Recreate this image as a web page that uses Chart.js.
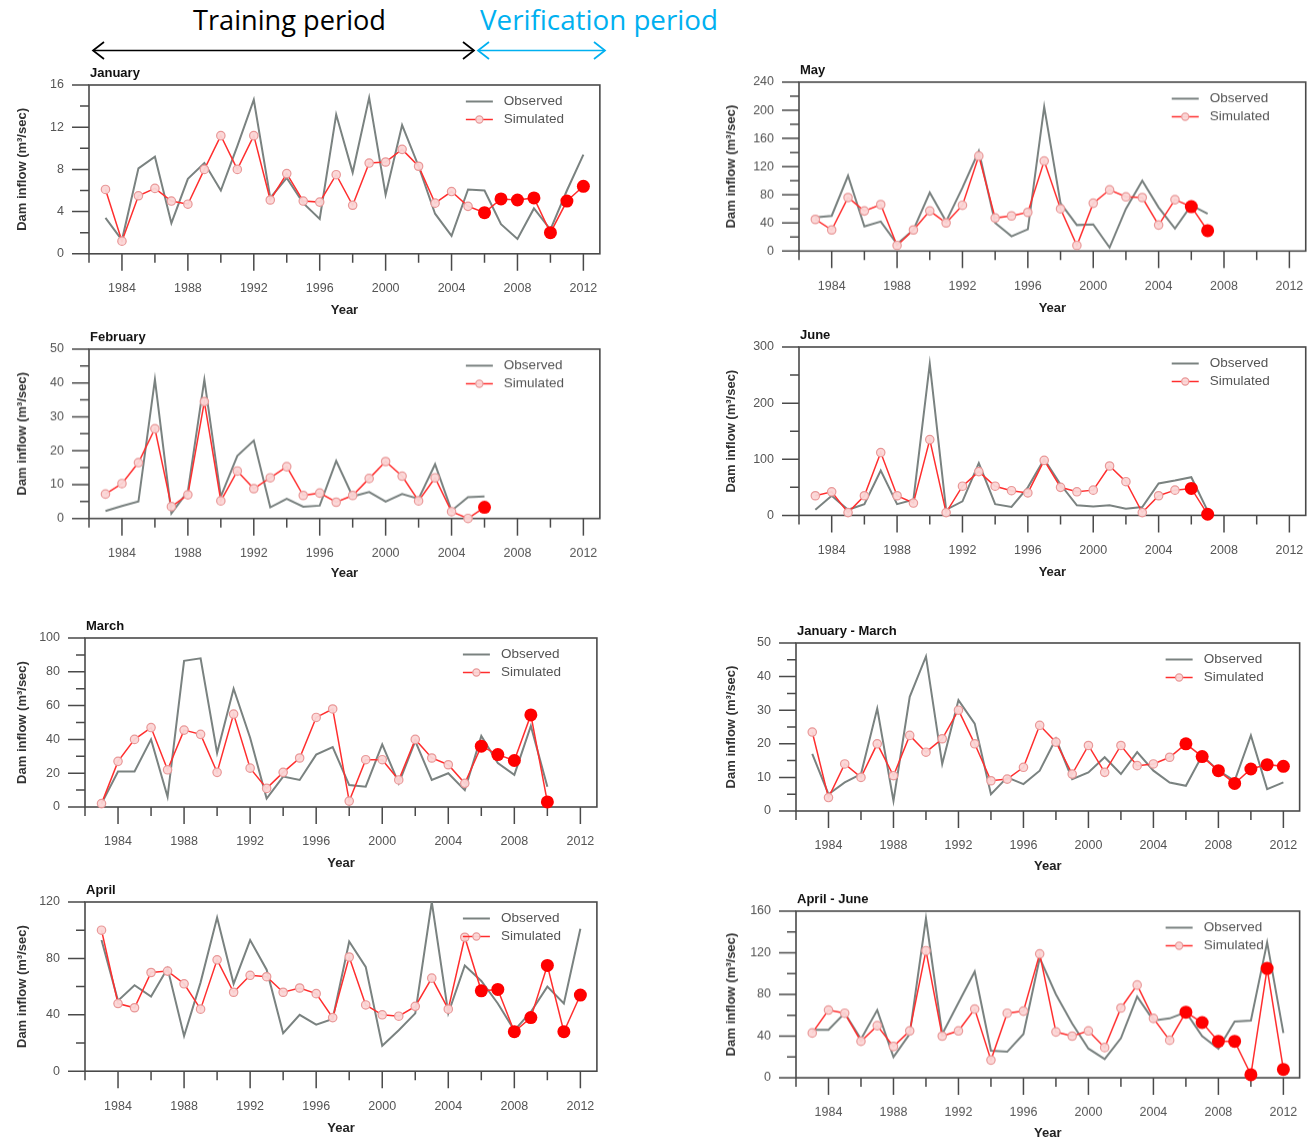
<!DOCTYPE html>
<html>
<head>
<meta charset="utf-8">
<script src="https://cdn.jsdelivr.net/npm/chart.js@4.4.1/dist/chart.umd.min.js"></script>
<style>
  html, body { margin: 0; padding: 0; background: #fff; }
  body { width: 1312px; height: 1141px; position: relative; overflow: hidden; font-family: "Liberation Sans", Arial, sans-serif; }
  .panel { position: absolute; filter: blur(0.45px); }
  #periods { position: absolute; left: 0; top: 0; }
</style>
</head>
<body>
<svg id="periods" width="740" height="66">
  <text x="193" y="29.5" textLength="193" lengthAdjust="spacingAndGlyphs" font-family="Open Sans" font-size="27" fill="#000">Training period</text>
  <text x="480" y="29.5" textLength="238" lengthAdjust="spacingAndGlyphs" font-family="Open Sans" font-size="27" fill="#00b0f0">Verification period</text>
  <g stroke="#000" stroke-width="1.7" fill="none">
    <line x1="93" y1="50.5" x2="474" y2="50.5"/>
    <polyline points="104,42 93,50.5 104,59"/>
    <polyline points="463,42 474,50.5 463,59"/>
  </g>
  <g stroke="#00b0f0" stroke-width="1.7" fill="none">
    <line x1="478" y1="50.5" x2="605" y2="50.5"/>
    <polyline points="489,42 478,50.5 489,59"/>
    <polyline points="594,42 605,50.5 594,59"/>
  </g>
</svg>
<script>
// ---- data ---------------------------------------------------------------
const years = [1983, 1984, 1985, 1986, 1987, 1988, 1989, 1990, 1991, 1992,
               1993, 1994, 1995, 1996, 1997, 1998, 1999, 2000, 2001, 2002,
               2003, 2004, 2005, 2006, 2007, 2008, 2009, 2010, 2011, 2012];
const verificationStart = 2006;
const xTickLabels = [1984, 1988, 1992, 1996, 2000, 2004, 2008, 2012];

const janObserved  = [3.4, 1.3, 8.1, 9.2, 2.9, 7.1, 8.6, 6.0, 10.2, 14.6, 5.3, 7.2, 4.8, 3.3, 13.2, 7.7, 14.8, 5.6, 12.2, 8.3, 3.8, 1.7, 6.1, 6.0, 2.8, 1.4, 4.3, 2.3, 6.0, 9.4];
const janSimulated = [6.1, 1.2, 5.5, 6.2, 5.0, 4.7, 8.0, 11.2, 8.0, 11.2, 5.1, 7.6, 5.0, 4.9, 7.5, 4.6, 8.6, 8.7, 9.9, 8.3, 4.8, 5.9, 4.5, 3.9, 5.2, 5.1, 5.3, 2.0, 5.0, 6.4];

const febObserved  = [2.2, 3.7, 5.0, 41, 1.5, 8, 41, 6.5, 18.5, 23, 3.3, 5.8, 3.5, 3.8, 17, 6.5, 7.8, 5, 7.2, 5.8, 16, 2.3, 6.3, 6.5];
const febSimulated = [7.2, 10.3, 16.5, 26.5, 3.5, 7, 34.5, 5.2, 14, 8.8, 12, 15.3, 6.8, 7.5, 4.8, 6.8, 11.8, 16.8, 12.5, 5.2, 12, 2, 0, 3.3];

const marObserved  = [2, 21, 21, 40, 6, 86.5, 88, 32, 70, 41, 5, 18, 16, 31, 35.5, 13, 12, 37, 14, 39, 16, 20, 10, 42, 26, 19, 48, 12];
const marSimulated = [2, 27, 40, 47, 22, 45.5, 43, 20.5, 55, 23, 11, 20.5, 29, 53, 58, 3.5, 28, 28, 16, 40, 29, 25, 14, 36, 31, 27.5, 54.5, 3];

const aprObserved  = [93, 50, 61, 53, 73, 25, 63, 109, 62, 93, 72, 27, 40, 33, 37, 92, 74, 18, 29, 41, 120, 41, 75, 64, 48, 29, 42, 60, 48, 101];
const aprSimulated = [100, 48, 45, 70, 71, 62, 44, 79, 56, 68, 67, 56, 59, 55, 38, 81, 47, 40, 39, 46, 66, 44, 95, 57, 58, 28, 38, 75, 28, 54];

const mayObserved  = [48, 50, 107, 35, 42, 10, 30, 83, 42, 90, 142, 40, 21, 31, 205, 68, 37, 38, 5, 60, 100, 62, 32, 65, 53];
const maySimulated = [45, 30, 76, 57, 66, 8, 30, 57, 40, 65, 135, 47, 50, 55, 128, 60, 8, 68, 87, 77, 76, 37, 73, 63, 29];

const junObserved  = [10, 35, 10, 20, 80, 20, 28, 270, 10, 25, 93, 20, 15, 50, 100, 55, 18, 16, 18, 12, 15, 57, 62, 68, 8];
const junSimulated = [35, 42, 5, 35, 112, 35, 22, 135, 5, 52, 78, 52, 44, 40, 98, 50, 42, 45, 88, 60, 5, 35, 45, 48, 2];

const janMarObserved  = [17, 5, 8.5, 11, 30.5, 3, 34, 46, 14, 33, 26, 5, 10, 8, 12, 21.5, 9.5, 11.5, 16, 11, 17.5, 12, 8.5, 7.5, 16.5, 12, 9, 22.5, 6.5, 8.5];
const janMarSimulated = [23.5, 4, 14, 10, 20, 10.5, 22.5, 17.5, 21.5, 30, 20, 9, 9.5, 13, 25.5, 20.5, 11, 19.5, 11.5, 19.5, 13.5, 14, 16, 20, 16.2, 12, 8.2, 12.5, 13.8, 13.3];

const aprJunObserved  = [46, 46, 62, 37, 65, 20, 42, 153, 42, 72, 102, 26, 25, 42, 115, 80, 52, 28, 18, 38, 78, 55, 57, 63, 40, 28, 54, 55, 130, 43];
const aprJunSimulated = [43, 65, 62, 35, 50, 30, 45, 122, 40, 45, 66, 17, 62, 64, 119, 44, 40, 45, 29, 67, 89, 57, 36, 63, 53, 35, 35, 3, 105, 8];

// panel titles and y-axis ranges: [max, labelled step, minor step]
const panelTitles = ['January', 'February', 'March', 'April', 'May', 'June', 'January - March', 'April - June'];
const yRanges = [[16, 4, 2], [50, 10, 5], [100, 20, 10], [120, 40, 20],
                 [240, 40, 20], [300, 100, 50], [50, 10, 5], [160, 40, 20]];
const observedSeries  = [janObserved, febObserved, marObserved, aprObserved, mayObserved, junObserved, janMarObserved, aprJunObserved];
const simulatedSeries = [janSimulated, febSimulated, marSimulated, aprSimulated, maySimulated, junSimulated, janMarSimulated, aprJunSimulated];

// ---- page layout (plot box: left, top, right, bottom; x-title centre; canvas left) ----
const boxes = [
  { l: 89,  t: 84.5,  r: 604,  b: 253.3,  yearY: 310,  cl: 15 },
  { l: 89,  t: 349,   r: 604,  b: 517.7,  yearY: 573,  cl: 15 },
  { l: 85,  t: 637.7, r: 601,  b: 806.7,  yearY: 863,  cl: 15 },
  { l: 85,  t: 901.5, r: 601,  b: 1070.7, yearY: 1128, cl: 15 },
  { l: 799, t: 82,    r: 1310, b: 250.3,  yearY: 308,  cl: 724 },
  { l: 799, t: 347.3, r: 1310, b: 515.7,  yearY: 573,  cl: 724 },
  { l: 796, t: 642.7, r: 1304, b: 810.7,  yearY: 866,  cl: 724 },
  { l: 796, t: 911,   r: 1304, b: 1077,   yearY: 1133, cl: 724 }
];

const OBS_COLOR = '#7a8280';
const SIM_COLOR = '#ff2e2e';
const SIM_FILL = 'rgba(251, 214, 214, 0.95)';
const SIM_EDGE = '#e99898';
const AXIS_COLOR = '#4a4a4a';
const TEXT_COLOR = '#555';

function toPoints(values) {
  return values.map((v, i) => ({ x: years[i], y: v }));
}
const isVerification = ctx => ctx.raw && ctx.raw.x >= verificationStart;

// frame, outward tick marks, panel title and in-plot legend
const panelDecor = {
  id: 'panelDecor',
  beforeDatasetsDraw(chart, args, opts) {
    const { ctx, chartArea: a } = chart;
    const xs = chart.scales.x, ys = chart.scales.y;
    ctx.save();
    ctx.strokeStyle = AXIS_COLOR;
    ctx.lineWidth = 1.6;
    ctx.strokeRect(a.left, a.top, a.right - a.left, a.bottom - a.top);
    ctx.lineWidth = 1.5;
    ctx.beginPath();
    ys.ticks.forEach(t => {
      const y = ys.getPixelForValue(t.value);
      const len = t.value % opts.major === 0 ? 17 : 9;
      ctx.moveTo(a.left, y); ctx.lineTo(a.left - len, y);
    });
    xs.ticks.forEach(t => {
      const x = xs.getPixelForValue(t.value);
      const len = xTickLabels.includes(t.value) ? 17 : 9;
      ctx.moveTo(x, a.bottom); ctx.lineTo(x, a.bottom + len);
    });
    ctx.stroke();
    ctx.restore();
  },
  afterDraw(chart, args, opts) {
    const { ctx, chartArea: a } = chart;
    ctx.save();
    ctx.fillStyle = '#111';
    ctx.font = 'bold 13px "Liberation Sans", Arial, sans-serif';
    ctx.textBaseline = 'middle';
    ctx.textAlign = 'left';
    ctx.fillText(opts.title, a.left + 1, a.top - 11.5);

    const x0 = a.right - 134, x1 = a.right - 107, tx = a.right - 96;
    const r1 = a.top + 16.5, r2 = a.top + 34.5;
    const obs = chart.data.datasets[1], sim = chart.data.datasets[0];
    ctx.lineWidth = obs.borderWidth;
    ctx.strokeStyle = obs.borderColor;
    ctx.beginPath(); ctx.moveTo(x0, r1); ctx.lineTo(x1, r1); ctx.stroke();
    ctx.lineWidth = sim.borderWidth;
    ctx.strokeStyle = sim.borderColor;
    ctx.beginPath(); ctx.moveTo(x0, r2); ctx.lineTo(x1, r2); ctx.stroke();
    ctx.beginPath(); ctx.arc((x0 + x1) / 2, r2, 3.6, 0, Math.PI * 2);
    ctx.fillStyle = SIM_FILL; ctx.fill();
    ctx.lineWidth = 1.2; ctx.strokeStyle = SIM_EDGE; ctx.stroke();
    ctx.fillStyle = TEXT_COLOR;
    ctx.font = '13.5px "Liberation Sans", Arial, sans-serif';
    ctx.fillText(obs.label, tx, r1);
    ctx.fillText(sim.label, tx, r2);
    ctx.restore();
  }
};

function makePanel(i) {
  const box = boxes[i];
  const [yMax, major, minor] = yRanges[i];
  const top = box.t - 24, right = box.r + 4, bottom = box.yearY + 7.5;
  const wrap = document.createElement('div');
  wrap.className = 'panel';
  wrap.style.left = box.cl + 'px';
  wrap.style.top = top + 'px';
  wrap.style.width = (right - box.cl) + 'px';
  wrap.style.height = (bottom - top) + 'px';
  const canvas = document.createElement('canvas');
  wrap.appendChild(canvas);
  document.body.appendChild(wrap);

  const tickFont = { family: '"Liberation Sans", Arial, sans-serif', size: 12.5 };
  new Chart(canvas, {
    type: 'line',
    data: {
      datasets: [
        {
          label: 'Simulated',
          data: toPoints(simulatedSeries[i]),
          borderColor: SIM_COLOR,
          borderWidth: 1.5,
          pointRadius: c => isVerification(c) ? 6.5 : 4.2,
          pointBackgroundColor: c => isVerification(c) ? '#ff0000' : SIM_FILL,
          pointBorderColor: c => isVerification(c) ? '#ff0000' : SIM_EDGE,
          pointBorderWidth: c => isVerification(c) ? 0 : 1.2,
          tension: 0,
          clip: false,
          order: 0
        },
        {
          label: 'Observed',
          data: toPoints(observedSeries[i]),
          borderColor: OBS_COLOR,
          borderWidth: 2,
          pointRadius: 0,
          tension: 0,
          order: 1
        }
      ]
    },
    options: {
      responsive: true,
      maintainAspectRatio: false,
      animation: false,
      events: [],
      layout: { padding: { left: 0, top: 24, right: 4, bottom: 0 } },
      plugins: {
        legend: { display: false },
        tooltip: { enabled: false },
        panelDecor: { title: panelTitles[i], major: major }
      },
      scales: {
        x: {
          type: 'linear',
          min: 1982,
          max: 2013,
          afterFit: s => { s.height = bottom - box.b; },
          border: { display: false },
          grid: { drawOnChartArea: false, drawTicks: true, tickLength: 17, tickColor: 'rgba(0,0,0,0)' },
          ticks: {
            stepSize: 2, includeBounds: false, autoSkip: false, maxRotation: 0,
            padding: 10.5, color: TEXT_COLOR, font: tickFont,
            callback: v => xTickLabels.includes(v) ? String(v) : ''
          },
          title: { display: true, text: 'Year', color: '#222', padding: 0,
                   font: { family: '"Liberation Sans", Arial, sans-serif', size: 13, weight: 'bold' } }
        },
        y: {
          min: 0,
          max: yMax,
          afterFit: s => { s.width = box.l - box.cl; },
          border: { display: false },
          grid: { drawOnChartArea: false, drawTicks: true, tickLength: 17, tickColor: 'rgba(0,0,0,0)' },
          ticks: {
            stepSize: minor, autoSkip: false, padding: 8, color: TEXT_COLOR, font: tickFont,
            callback: v => v % major === 0 ? String(v) : ''
          },
          title: { display: true, text: 'Dam inflow (m³/sec)', color: '#333', padding: 0,
                   font: { family: '"Liberation Sans", Arial, sans-serif', size: 13, weight: 'bold' } }
        }
      }
    },
    plugins: [panelDecor]
  });
}

for (let i = 0; i < boxes.length; i++) makePanel(i);
</script>
</body>
</html>
